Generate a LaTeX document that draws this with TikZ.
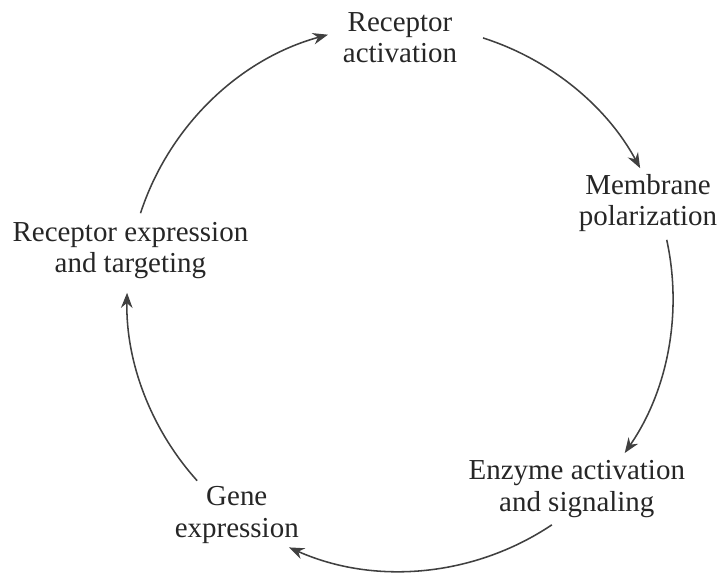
\documentclass[tikz,border=0pt]{standalone}
\usepackage{fontspec}
\setmainfont{Liberation Serif}
\usepackage{tikz}
\usetikzlibrary{arrows.meta, calc}
\definecolor{cycle}{HTML}{404040}
\newcommand{\rad}{3.4125}
\tikzset{
  stage/.style={align=center, inner sep=0pt, font=\fontsize{10.3}{11.2}\selectfont, text=black!85},
  arr/.style={-{Stealth[length=1.9mm, width=1.45mm]}, line width=0.55pt, draw=cycle},
}

\begin{document}
\begin{tikzpicture}
\useasboundingbox (0,0) rectangle (9,-7.1875);
\coordinate (c) at (5.0,-3.725);
\node[stage] (rec) at (5.0,-0.47) {Receptor\\activation};
\node[stage] (mem) at (8.1,-2.54) {Membrane\\polarization};
\node[stage] (enz) at (7.21,-6.11) {Enzyme activation\\and signaling};
\node[stage] (gen) at (2.96,-6.44) {Gene\\expression};
\node[stage] (tgt) at (1.63,-3.13) {Receptor expression\\and targeting};
% arcs of the cycle, clockwise
\draw[arr] ($(c)+(161.9:\rad)$) arc[start angle=161.9, end angle=105.3, radius=\rad];
\draw[arr] ($(c)+(72.3:\rad)$) arc[start angle=72.3, end angle=28.4, radius=\rad];
\draw[arr] ($(c)+(12.3:\rad)$) arc[start angle=12.3, end angle=-34.6, radius=\rad];
\draw[arr] ($(c)+(-56.2:\rad)$) arc[start angle=-56.2, end angle=-114, radius=\rad];
\draw[arr] ($(c)+(222:\rad)$) arc[start angle=222, end angle=178.9, radius=\rad];
\end{tikzpicture}
\end{document}
